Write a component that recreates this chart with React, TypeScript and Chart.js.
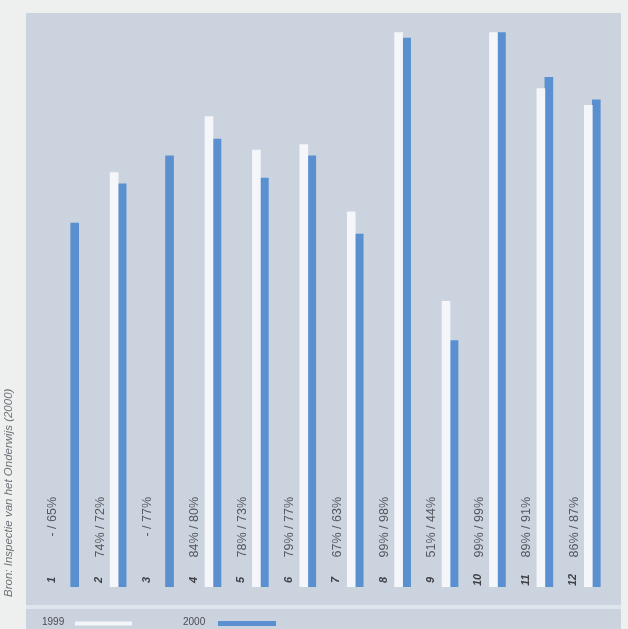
import React, { useEffect, useRef } from "react";
import { Chart, registerables } from "chart.js";

Chart.register(...registerables);

const categories = ["1", "2", "3", "4", "5", "6", "7", "8", "9", "10", "11", "12"];
const values1999: (number | null)[] = [null, 74, null, 84, 78, 79, 67, 99, 51, 99, 89, 86];
const values2000: number[] = [65, 72, 77, 80, 73, 77, 63, 98, 44, 99, 91, 87];
const seriesNames = ["1999", "2000"];
const sourceText = "Bron: Inspectie van het Onderwijs (2000)";

const W = 628;
const H = 629;
const WHITE = "#f4f6f9";
const BLUE = "#5a90cf";

const fmt = (v: number | null) => (v == null ? "-" : `${v}%`);

const textPlugin = {
  id: "textPlugin",
  afterDatasetsDraw(chart: any) {
    const ctx = chart.ctx;
    const x = chart.scales.x;
    ctx.save();
    categories.forEach((c, i) => {
      const cx = x.getPixelForValue(i);
      // category number
      ctx.save();
      ctx.translate(cx - 19, 580);
      ctx.rotate(-Math.PI / 2);
      ctx.font = "bold italic 11px 'Liberation Sans', Arial, sans-serif";
      ctx.fillStyle = "#3e4046";
      ctx.textAlign = "center";
      ctx.textBaseline = "middle";
      ctx.fillText(c, 0, 0);
      ctx.restore();
      // value label
      ctx.save();
      ctx.translate(cx - 18, 497);
      ctx.rotate(-Math.PI / 2);
      ctx.font = "12.5px 'Liberation Sans', Arial, sans-serif";
      ctx.fillStyle = "#55585e";
      ctx.textAlign = "right";
      ctx.textBaseline = "middle";
      ctx.fillText(`${fmt(values1999[i])} / ${fmt(values2000[i])}`, 0, 0);
      ctx.restore();
    });
    // source text
    ctx.save();
    ctx.translate(9, 597);
    ctx.rotate(-Math.PI / 2);
    ctx.font = "italic 11.5px 'Liberation Sans', Arial, sans-serif";
    ctx.fillStyle = "#6e7076";
    ctx.textAlign = "left";
    ctx.textBaseline = "middle";
    ctx.fillText(sourceText, 0, 0);
    ctx.restore();
    // legend
    const ds = chart.data.datasets;
    const legendPos = [
      { tx: 42, lx: 75, lw: 57, lh: 4 },
      { tx: 183, lx: 218, lw: 58, lh: 5 },
    ];
    ds.forEach((d: any, k: number) => {
      const p = legendPos[k];
      ctx.font = "10px 'Liberation Sans', Arial, sans-serif";
      ctx.fillStyle = "#4a4c52";
      ctx.textAlign = "left";
      ctx.textBaseline = "middle";
      ctx.fillText(d.label, p.tx, 622);
      ctx.fillStyle = d.backgroundColor;
      ctx.fillRect(p.lx, 623.5 - p.lh / 2, p.lw, p.lh);
    });
    ctx.restore();
  },
};

export default function App() {
  const ref = useRef<HTMLCanvasElement>(null);
  useEffect(() => {
    if (!ref.current) return;
    const chart = new Chart(ref.current, {
      type: "bar",
      data: {
        labels: categories,
        datasets: [
          { label: seriesNames[0], data: values1999, backgroundColor: WHITE, barThickness: 8 },
          { label: seriesNames[1], data: values2000, backgroundColor: BLUE, barThickness: 8 },
        ],
      },
      options: {
        responsive: false,
        animation: false,
        layout: { padding: { left: 47, right: 12, top: 27, bottom: 42 } },
        plugins: { legend: { display: false }, tooltip: { enabled: false } },
        scales: {
          x: { display: false, offset: true, grid: { display: false } },
          y: { display: false, min: 0, max: 100 },
        },
      },
      plugins: [textPlugin],
    });
    return () => chart.destroy();
  }, []);
  return (
    <div style={{ position: "fixed", left: 0, top: 0, width: W, height: H, background: "#eeefef", overflow: "hidden" }}>
      <div style={{ position: "absolute", left: 26, top: 13, width: 595, height: H - 13, background: "#cbd3df" }} />
      <div style={{ position: "absolute", left: 26, top: 605, width: 595, height: 4, background: "#dfe5ed" }} />
      <canvas ref={ref} width={W} height={H} style={{ position: "absolute", left: 0, top: 0 }} />
    </div>
  );
}
